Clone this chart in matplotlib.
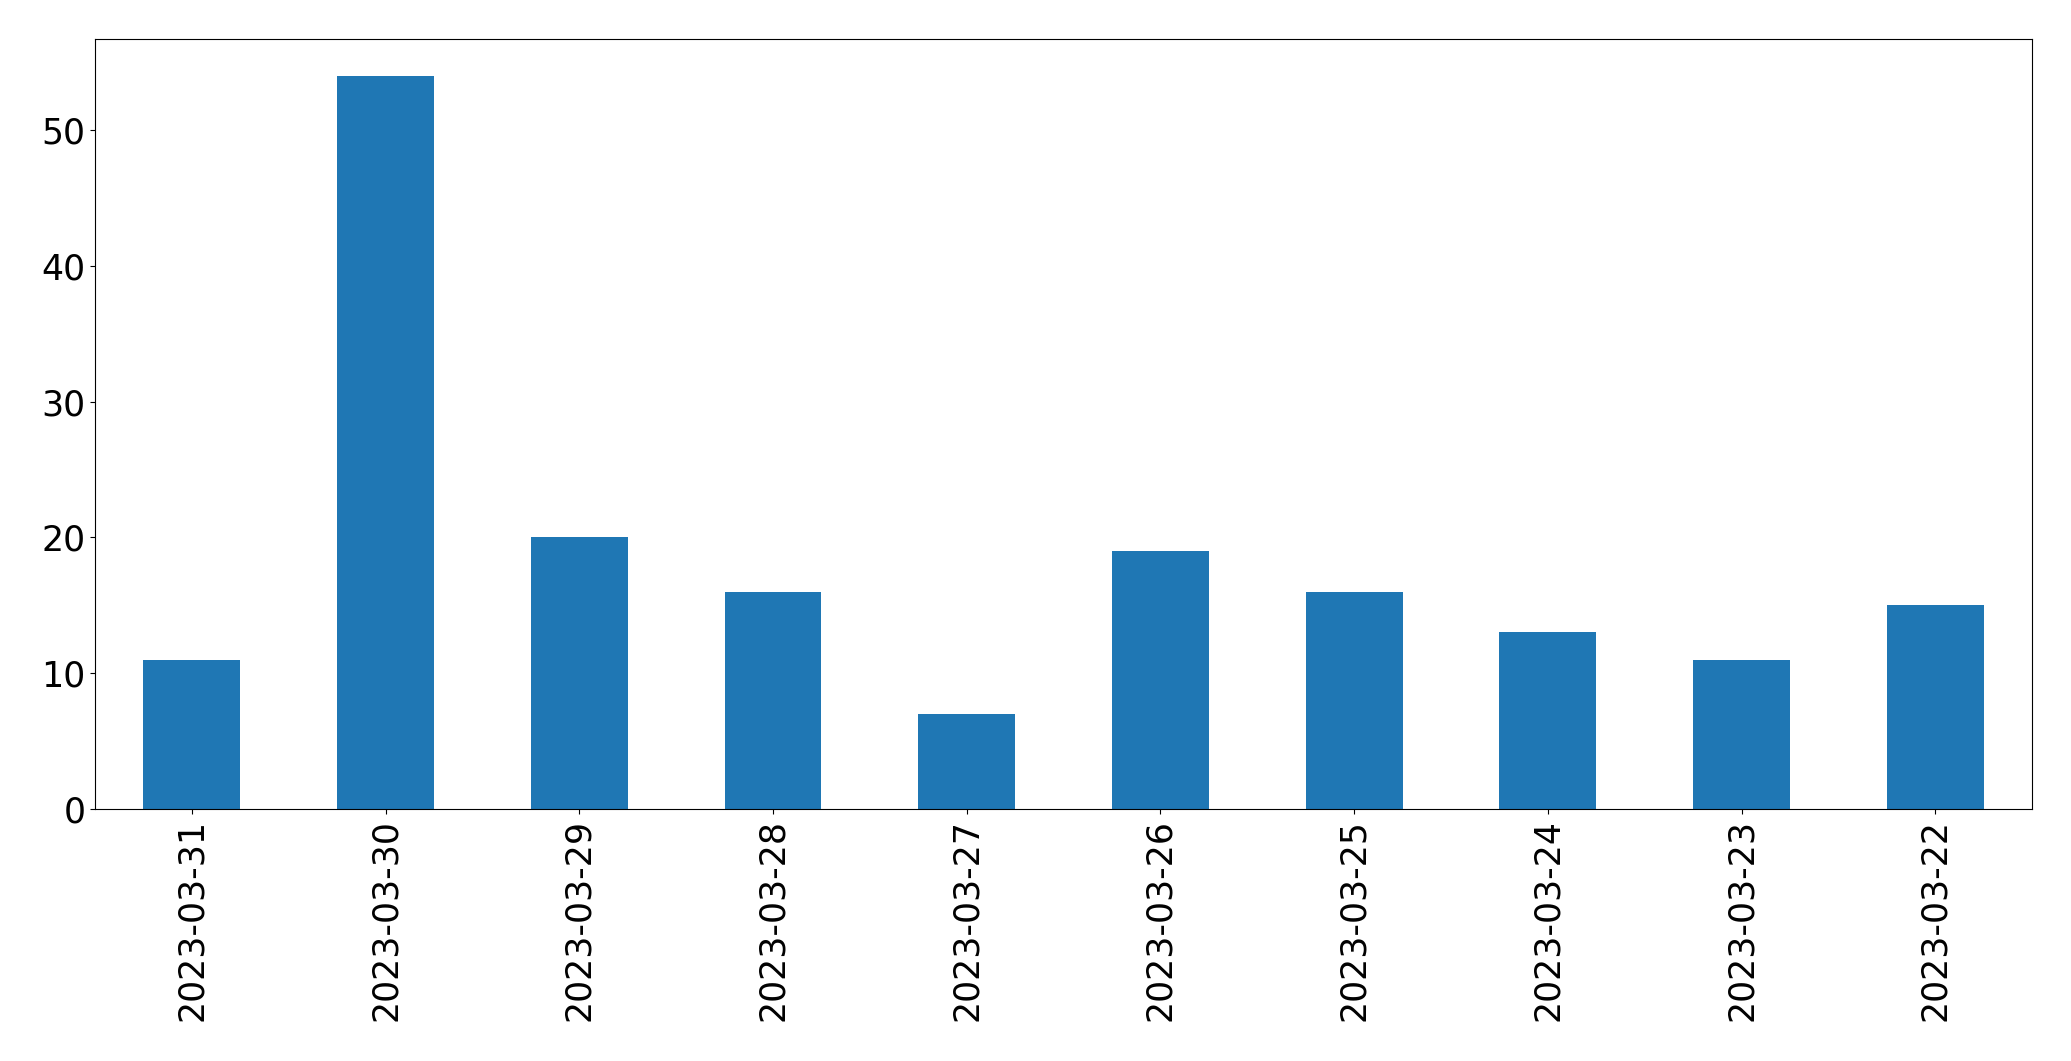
import matplotlib
matplotlib.use("Agg")
import matplotlib.pyplot as plt
import numpy as np

dates = ["2023-03-31", "2023-03-30", "2023-03-29", "2023-03-28", "2023-03-27",
         "2023-03-26", "2023-03-25", "2023-03-24", "2023-03-23", "2023-03-22"]
counts = [11, 54, 20, 16, 7, 19, 16, 13, 11, 15]

fig, ax = plt.subplots(figsize=(20.71, 10.61), dpi=100)
fig.subplots_adjust(left=0.0459, right=0.9812, top=0.9632, bottom=0.2375)

x = np.arange(len(dates))
ax.bar(x, counts, width=0.5, color="#1f77b4")
ax.set_xlim(-0.5, len(dates) - 0.5)
ax.set_ylim(0, max(counts) * 1.05)
ax.set_xticks(x)
ax.set_xticklabels(dates, rotation=90)
ax.tick_params(labelsize=25)

fig.savefig("out.png", dpi=100)
